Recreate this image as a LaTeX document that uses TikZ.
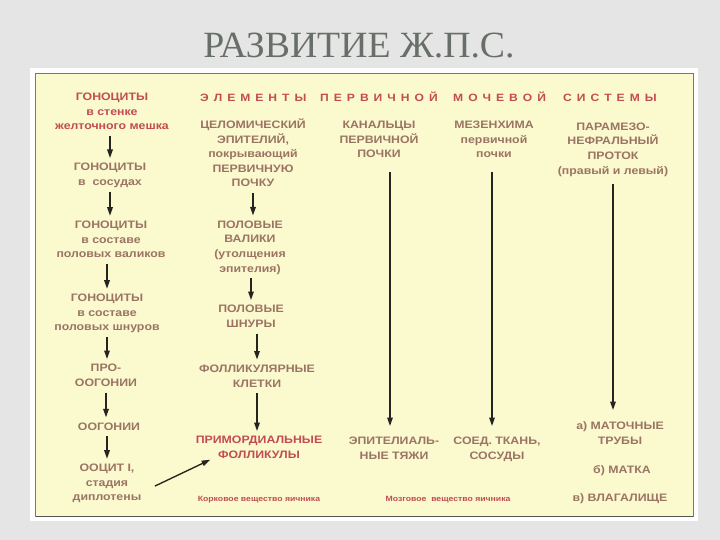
\documentclass[tikz,border=0pt]{standalone}
\usepackage{fontspec}
\usetikzlibrary{arrows.meta,calc}
\newfontfamily\cf[FakeStretch=1.14]{Liberation Sans}
\newfontfamily\tf[FakeStretch=1.02]{Liberation Serif}
\definecolor{bgc}{RGB}{229,229,229}
\definecolor{panelc}{RGB}{251,249,206}
\definecolor{tbrown}{RGB}{155,116,100}
\definecolor{tred}{RGB}{194,76,80}
\definecolor{arrowc}{RGB}{36,36,32}
\definecolor{titlec}{RGB}{104,110,104}
\definecolor{framec}{RGB}{120,120,115}
\makeatletter
\newcommand\spw[1]{\@tfor\spw@c:=#1\do{\spw@c\hspace{5pt}}\unskip}
\makeatother
\tikzset{
  ctxt/.style={font=\cf\bfseries\fontsize{10.8}{14.6}\selectfont, align=center, inner sep=1pt, text=tbrown},
  redtxt/.style={text=tred},
  smalltxt/.style={font=\cf\bfseries\fontsize{7.6}{9}\selectfont, inner sep=0pt, text=tred, anchor=base},
  hdr/.style={font=\cf\bfseries\fontsize{10.6}{12}\selectfont, inner sep=0pt, text=tred, anchor=base west},
  arr/.style={draw=arrowc, line width=1.35pt, -{Triangle[length=8.5pt,width=5.6pt]}, shorten >=1.5pt, shorten <=0.5pt}
}
\begin{document}
\begin{tikzpicture}[x=1pt,y=-1pt]
\useasboundingbox (0,0) rectangle (720,540);
\fill[bgc] (0,0) rectangle (720,540);
\fill[white] (30,68) rectangle (698,521);
\filldraw[fill=panelc, draw=framec, line width=0.8pt] (35.5,73.5) rectangle (693,516.5);
\draw[framec!70!black, line width=1.6pt] (35.5,516.5) -- (693,516.5);

\node[font=\tf\fontsize{37}{40}\selectfont, text=titlec, inner sep=0pt] (title) at (359,46) {РАЗВИТИЕ Ж.П.С.};

% header
\node[hdr] (h1) at (200,101.7) {\spw{ЭЛЕМЕНТЫ}};
\node[hdr] (h2) at (320,101.7) {\spw{ПЕРВИЧНОЙ}};
\node[hdr] (h3) at (453,101.7) {\spw{МОЧЕВОЙ}};
\node[hdr] (h4) at (563,101.7) {\spw{СИСТЕМЫ}};

% column 1
\node[ctxt, redtxt] (g1) at (112,112.2) {\strut ГОНОЦИТЫ\\в стенке\\желточного мешка\strut};
\node[ctxt] (g2) at (110,175.3) {\strut ГОНОЦИТЫ\\в\ \ сосудах\strut};
\node[ctxt] (g3) at (111,240.3) {\strut ГОНОЦИТЫ\\в составе\\половых валиков\strut};
\node[ctxt] (g4) at (107,313.3) {\strut ГОНОЦИТЫ\\в составе\\половых шнуров\strut};
\node[ctxt] (g5) at (106,376.3) {\strut ПРО-\\ООГОНИИ\strut};
\node[ctxt] (g6) at (109,427.3) {\strut ООГОНИИ\strut};
\node[ctxt] (g7) at (107,483.3) {\strut ООЦИТ I,\\стадия\\диплотены\strut};

\draw[arr] (g1.south -| g2.north) -- (g2.north);
\draw[arr] (g2.south) -- (g2.south |- g3.north);
\draw[arr] (g3.south -| g4.north) -- (g4.north);
\draw[arr] (g4.south) -- (g4.south |- g5.north);
\draw[arr] (g5.south) -- (g5.south |- g6.north);
\draw[arr] (g6.south -| g7.north) -- (g7.north);

% column 2
\node[ctxt] (c1) at (253,154.8) {\strut ЦЕЛОМИЧЕСКИЙ\\ЭПИТЕЛИЙ,\\покрывающий\\ПЕРВИЧНУЮ\\ПОЧКУ\strut};
\node[ctxt] (c2) at (250,247.3) {\strut ПОЛОВЫЕ\\ВАЛИКИ\\(утолщения\\эпителия)\strut};
\node[ctxt] (c3) at (251,317.3) {\strut ПОЛОВЫЕ\\ШНУРЫ\strut};
\node[ctxt] (c4) at (257,376.8) {\strut ФОЛЛИКУЛЯРНЫЕ\\КЛЕТКИ\strut};
\node[ctxt, redtxt] (c5) at (259,448.3) {\strut ПРИМОРДИАЛЬНЫЕ\\ФОЛЛИКУЛЫ\strut};
\node[smalltxt] (s1) at (259,501.6) {Корковое вещество яичника};

\draw[arr] (c1.south) -- (c1.south |- c2.north);
\draw[arr] (c2.south -| c3.north) -- (c3.north);
\draw[arr] (c3.south -| c4.north) -- (c4.north);
\draw[arr] (c4.south) -- (c4.south |- c5.north);

\draw[arr] ([shift={(12,3)}]g7.east) -- ([shift={(17,-5)}]c5.south west);

% column 3
\node[ctxt] (k1) at (379,140.3) {\strut КАНАЛЬЦЫ\\ПЕРВИЧНОЙ\\ПОЧКИ\strut};
\node[ctxt] (k2) at (394,449.3) {\strut ЭПИТЕЛИАЛЬ-\\НЫЕ ТЯЖИ\strut};
\draw[arr, shorten <=9pt, shorten >=7.5pt] ($(k2.north |- k1.south)+(-4,0)$) -- ($(k2.north)+(-4,0)$);

% column 4
\node[ctxt] (mz1) at (494,140.3) {\strut МЕЗЕНХИМА\\первичной\\почки\strut};
\node[ctxt] (mz2) at (497,449.3) {\strut СОЕД. ТКАНЬ,\\СОСУДЫ\strut};
\draw[arr, shorten <=9pt, shorten >=7.5pt] ($(mz1.south)+(-2,0)$) -- ($(mz1.south |- mz2.north)+(-2,0)$);
\node[smalltxt] (s2) at (448,501.6) {Мозговое\ \ вещество яичника};

% column 5
\node[ctxt] (p1) at (613,149.3) {\strut ПАРАМЕЗО-\\НЕФРАЛЬНЫЙ\\ПРОТОК\\(правый и левый)\strut};
\node[ctxt] (p2) at (620,434.3) {\strut а) МАТОЧНЫЕ\\ТРУБЫ\strut};
\node[ctxt] (p3) at (622,470.8) {\strut б) МАТКА\strut};
\node[ctxt] (p4) at (620,498.8) {\strut в) ВЛАГАЛИЩЕ\strut};
\draw[arr, shorten <=4pt, shorten >=8.5pt] (p1.south) -- (p1.south |- p2.north);
\end{tikzpicture}
\end{document}
